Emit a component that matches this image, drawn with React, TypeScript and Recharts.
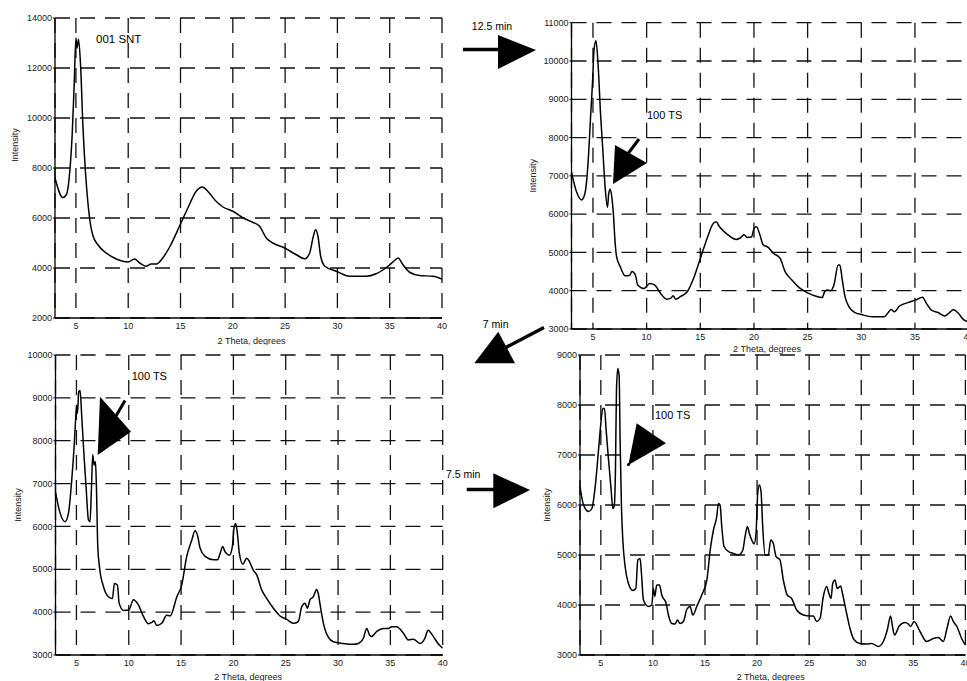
import { LineChart, Line, XAxis, YAxis, CartesianGrid } from 'recharts'

const FONT = '"Liberation Sans", Arial, Helvetica, sans-serif'

// 2 theta ticks shared by all four scans
const thetaTicks = [5, 10, 15, 20, 25, 30, 35, 40]

// 001 SNT (starting material)
const sntTicks = [2000, 4000, 6000, 8000, 10000, 12000, 14000]
const sntTheta = [
  3, 3.75, 4.08, 4.4, 4.65, 4.84, 5.0, 5.1, 5.25, 5.45, 5.67, 5.92, 6.15, 6.37, 6.6,
  7.1, 7.9, 8.86, 10, 10.6, 11.1, 11.7, 12.2, 12.7, 13.3, 14, 14.9, 15.7, 16.5, 17.1,
  17.6, 18.4, 19.06, 20, 21, 21.9, 22.56, 23.2, 23.84, 24.96, 26.07, 26.87, 27.35, 27.7,
  27.92, 28.14, 28.4, 28.8, 29.9, 31.17, 32.77, 33.7, 34.84, 35.47, 35.8, 36.27, 36.9,
  37.86, 39.14, 40,
]
const sntIntensity = [
  7600, 6820, 6930, 7800, 9400, 11400, 13200, 12800, 13150, 12070, 9670, 7800, 6600, 5800, 5330,
  4930, 4600, 4360, 4240, 4360, 4200, 4070, 4160, 4160, 4400, 4870, 5670, 6400, 7070, 7240,
  7070, 6670, 6440, 6270, 6000, 5830, 5670, 5200, 5000, 4800, 4530, 4370, 4600, 5270,
  5530, 5270, 4470, 4070, 3870, 3670, 3670, 3770, 4070, 4300, 4400, 4130, 3830,
  3700, 3670, 3560,
]

// after 12.5 min
const ts1Ticks = [3000, 4000, 5000, 6000, 7000, 8000, 9000, 10000, 11000]
const ts1Theta = [
  3, 3.46, 3.93, 4.25, 4.56, 4.78, 4.97, 5.1, 5.28, 5.47, 5.72, 5.9, 6.13, 6.35, 6.47,
  6.6, 6.75, 6.9, 7.07, 7.2, 7.54, 8.0, 8.4, 8.64, 8.95, 9.17, 9.73, 10.3, 10.74, 11.3,
  11.87, 12.24, 12.46, 12.7, 13.18, 13.8, 14.44, 15.06, 15.69, 16.16, 16.47, 16.79, 17.57,
  18.35, 18.67, 19.08, 19.39, 19.76, 20.02, 20.24, 20.55, 20.86, 21.33, 21.8, 22.43, 22.9,
  23.53, 24.31, 25.1, 25.72, 26.35, 26.6, 26.82, 27.13, 27.45, 27.85, 28.0, 28.23, 28.48,
  28.86, 29.33, 30.1, 31.05, 32.15, 32.46, 32.77, 33.09, 33.56, 34.35, 35.1, 35.7, 36.07,
  36.5, 37.15, 37.8, 38.3, 38.57, 39.05, 39.5, 40,
]
const ts1Intensity = [
  7100, 6590, 6370, 6540, 7410, 8550, 9500, 10290, 10530, 9940, 8550, 7760, 6720, 6180, 6540,
  6650, 6460, 6020, 5240, 4890, 4630, 4390, 4400, 4500, 4410, 4150, 4060, 4190, 4150, 3930,
  3780, 3800, 3870, 3780, 3850, 3980, 4370, 4890, 5410, 5740, 5800, 5670, 5460,
  5340, 5370, 5460, 5390, 5400, 5630, 5670, 5460, 5200, 5130, 4980, 4850, 4500,
  4280, 4060, 3930, 3860, 3820, 3980, 4020, 4000, 4150, 4670, 4670, 4280, 3850,
  3580, 3440, 3370, 3320, 3320, 3410, 3510, 3450, 3600, 3690, 3760, 3830, 3670,
  3500, 3430, 3340, 3450, 3500, 3410, 3250, 3190,
]

// after a further 7 min
const ts2Ticks = [3000, 4000, 5000, 6000, 7000, 8000, 9000, 10000]
const ts2Theta = [
  3, 3.44, 3.92, 4.24, 4.55, 4.78, 4.94, 5.03, 5.1, 5.22, 5.35, 5.51, 5.73, 5.92, 6.15,
  6.3, 6.43, 6.56, 6.69, 6.82, 6.91, 7.04, 7.2, 7.58, 8.06, 8.44, 8.63, 8.92, 9.08, 9.5,
  10, 10.45, 10.92, 11.4, 11.88, 12.2, 12.4, 12.67, 13.15, 13.63, 13.95, 14.6, 15.06,
  15.54, 16.02, 16.34, 16.56, 16.82, 17.3, 18.1, 18.47, 18.73, 18.98, 19.2, 19.62, 19.9,
  20.06, 20.22, 20.38, 20.57, 20.9, 21.27, 21.53, 21.9, 22.23, 22.7, 23.18, 23.82, 24.46,
  25.1, 25.73, 26.2, 26.53, 26.85, 27.07, 27.32, 27.64, 27.96, 28.1, 28.34, 28.6, 29.08,
  29.55, 30.5, 31.47, 31.94, 32.42, 32.74, 33.0, 33.2, 33.7, 34.33, 34.8, 35.13, 35.6,
  36.24, 36.72, 37.2, 37.83, 38.3, 38.6, 39.0, 39.55, 40,
]
const ts2Intensity = [
  6800, 6310, 6110, 6310, 7080, 7860, 8560, 8830, 8640, 9140, 9170, 8560, 7630, 6930, 6150,
  6110, 6850, 7670, 7430, 7510, 6930, 5530, 5060, 4600, 4360, 4320, 4670, 4630, 4210, 4040,
  4050, 4290, 4170, 3900, 3730, 3760, 3800, 3690, 3740, 3930, 3910, 4360, 4630,
  5300, 5680, 5900, 5800, 5490, 5300, 5220, 5220, 5370, 5530, 5410, 5330, 5530,
  5960, 6070, 5840, 5370, 5120, 5260, 5180, 4980, 4870, 4520, 4320, 4090, 3910,
  3830, 3740, 3780, 4130, 4210, 4090, 4290, 4360, 4530, 4440, 4090, 3740, 3410,
  3310, 3270, 3250, 3270, 3390, 3620, 3470, 3430, 3550, 3620, 3620, 3660, 3660,
  3510, 3350, 3370, 3270, 3390, 3580, 3470, 3270, 3160,
]

// after a further 7.5 min
const ts3Ticks = [3000, 4000, 5000, 6000, 7000, 8000, 9000]
const ts3Theta = [
  3, 3.34, 3.82, 4.14, 4.46, 4.78, 5.0, 5.19, 5.35, 5.51, 5.74, 5.99, 6.15, 6.28, 6.41,
  6.5, 6.63, 6.76, 6.85, 6.98, 7.11, 7.33, 7.65, 8.07, 8.36, 8.55, 8.77, 8.9, 9.09, 9.57,
  9.89, 10.05, 10.18, 10.37, 10.63, 10.85, 11.27, 11.49, 11.81, 12.13, 12.36, 12.6, 12.93,
  13.25, 13.57, 13.83, 14.21, 14.69, 15.18, 15.5, 15.81, 16.13, 16.29, 16.45, 16.61, 16.83,
  17.25, 17.73, 18.21, 18.62, 18.85, 19.07, 19.26, 19.49, 19.71, 19.9, 20.06, 20.22, 20.38,
  20.54, 20.77, 21.08, 21.31, 21.56, 21.82, 22.2, 22.52, 22.9, 23.32, 23.8, 24.44, 25.1,
  25.4, 25.72, 26.04, 26.36, 26.68, 26.9, 27.1, 27.26, 27.48, 27.7, 28.02, 28.2, 28.6,
  28.92, 29.3, 29.88, 30.52, 31.0, 31.64, 32.12, 32.5, 32.82, 33.0, 33.2, 33.65, 34.2,
  34.52, 34.74, 35.07, 35.64, 36.28, 36.92, 37.4, 37.88, 38.2, 38.58, 38.84, 39.16, 39.64, 40,
]
const ts3Intensity = [
  6370, 6000, 5870, 5930, 6370, 7100, 7630, 7930, 7930, 7500, 6900, 6300, 5930, 5970, 6770,
  8300, 8730, 8570, 7300, 5970, 5300, 4770, 4430, 4290, 4330, 4900, 4930, 4630, 4100, 3970,
  4000, 4330, 4170, 4400, 4400, 4200, 4030, 3800, 3630, 3620, 3700, 3630, 3670,
  3910, 3970, 3800, 3970, 4200, 4500, 5100, 5500, 5770, 6030, 6000, 5570, 5170,
  5070, 5030, 5000, 5090, 5370, 5570, 5430, 5300, 5220, 5430, 6230, 6400, 6270,
  5570, 5000, 5000, 5300, 5230, 4970, 4900, 4500, 4200, 4130, 3900, 3800, 3780,
  3780, 3670, 3730, 4170, 4370, 4230, 4130, 4430, 4500, 4330, 4380, 4230, 3830,
  3530, 3310, 3230, 3220, 3230, 3170, 3270, 3500, 3780, 3570, 3400, 3580, 3650,
  3620, 3570, 3670, 3470, 3270, 3330, 3350, 3270, 3500, 3780, 3670, 3580, 3330, 3200,
]

const tickStyle = { fill: '#222', fontSize: 9, fontFamily: FONT }

const yLabel = (dx: number, dy: number) => (props: any) => {
  const vb = props.viewBox
  const cx = vb.x + dx
  const cy = vb.y + vb.height / 2 + dy
  return (
    <text
      transform={`translate(${cx},${cy}) rotate(-90)`}
      textAnchor="middle"
      dominantBaseline="central"
      fontSize={9}
      fontFamily={FONT}
      fill="#222"
    >
      Intensity
    </text>
  )
}

const xLabel = (dx: number, dy: number) => (props: any) => {
  const vb = props.viewBox
  return (
    <text
      x={vb.x + vb.width / 2 + dx}
      y={vb.y + dy}
      textAnchor="middle"
      dominantBaseline="central"
      fontSize={9}
      fontFamily={FONT}
      fill="#222"
    >
      2 Theta, degrees
    </text>
  )
}

interface PanelProps {
  theta: number[]
  intensity: number[]
  yTicks: number[]
  left: number
  top: number
  width: number
  height: number
  plotLeft: number
  plotTop: number
  plotRight: number
  axisHeight: number
  yLab: [number, number]
  xLab: [number, number]
}

function Panel(p: PanelProps) {
  const data = p.theta.map((t, i) => ({ theta: t, intensity: p.intensity[i] }))
  return (
    <div style={{ position: 'absolute', left: p.left, top: p.top }}>
      <LineChart
        width={p.width}
        height={p.height}
        data={data}
        margin={{ top: p.plotTop, right: p.plotRight, bottom: 0, left: 0 }}
      >
        <CartesianGrid stroke="#111" strokeWidth={1.3} strokeDasharray="15 10" />
        <XAxis
          type="number"
          dataKey="theta"
          domain={[3, 40]}
          ticks={thetaTicks}
          allowDataOverflow
          interval={0}
          height={p.axisHeight}
          axisLine={{ stroke: '#000', strokeWidth: 1.3 }}
          tickLine={false}
          tickSize={3}
          tickMargin={2}
          tick={tickStyle}
          label={xLabel(p.xLab[0], p.xLab[1])}
        />
        <YAxis
          type="number"
          domain={[p.yTicks[0], p.yTicks[p.yTicks.length - 1]]}
          ticks={p.yTicks}
          allowDataOverflow
          interval={0}
          width={p.plotLeft}
          axisLine={{ stroke: '#000', strokeWidth: 1.3 }}
          tickLine={{ stroke: '#000' }}
          tickSize={2}
          tickMargin={1}
          tick={tickStyle}
          label={yLabel(p.yLab[0], p.yLab[1])}
        />
        <Line
          type="monotone"
          dataKey="intensity"
          stroke="#000"
          strokeWidth={1.5}
          dot={false}
          isAnimationActive={false}
        />
      </LineChart>
    </div>
  )
}

const noteStyle = { fontSize: 11, fontFamily: FONT, fill: '#000' }

export default function App() {
  return (
    <div
      style={{
        position: 'absolute',
        left: 0,
        top: 0,
        width: 967,
        height: 681,
        overflow: 'hidden',
        background: '#fff',
      }}
    >
      <Panel
        theta={sntTheta}
        intensity={sntIntensity}
        yTicks={sntTicks}
        left={0}
        top={0}
        width={450}
        height={345}
        plotLeft={55}
        plotTop={18}
        plotRight={8}
        axisHeight={27}
        yLab={[15, -23]}
        xLab={[3, 22.5]}
      />
      <Panel
        theta={ts1Theta}
        intensity={ts1Intensity}
        yTicks={ts1Ticks}
        left={500}
        top={0}
        width={475}
        height={356}
        plotLeft={71.5}
        plotTop={22.7}
        plotRight={6.4}
        axisHeight={27}
        yLab={[33, 0]}
        xLab={[-3, 20]}
      />
      <Panel
        theta={ts2Theta}
        intensity={ts2Intensity}
        yTicks={ts2Ticks}
        left={0}
        top={340}
        width={452}
        height={341}
        plotLeft={55.5}
        plotTop={15}
        plotRight={9.3}
        axisHeight={26}
        yLab={[18, 0]}
        xLab={[-1, 21.5]}
      />
      <Panel
        theta={ts3Theta}
        intensity={ts3Intensity}
        yTicks={ts3Ticks}
        left={500}
        top={340}
        width={475}
        height={341}
        plotLeft={80}
        plotTop={15}
        plotRight={9.6}
        axisHeight={26}
        yLab={[46.7, 0]}
        xLab={[-2, 21.5]}
      />
      <svg
        width={967}
        height={681}
        style={{ position: 'absolute', left: 0, top: 0, pointerEvents: 'none' }}
      >
        <text x={96} y={43} {...noteStyle} fontSize={11.5}>001 SNT</text>

        <text x={492} y={30} textAnchor="middle" {...noteStyle} fontSize={10.5}>12.5 min</text>
        <line x1={463} y1={49.5} x2={500} y2={49.5} stroke="#000" strokeWidth={3.5} />
        <polygon points="498,35 536,50 498,69" fill="#000" />

        <text x={647} y={119} {...noteStyle}>100 TS</text>
        <line x1={639} y1={139} x2={627} y2={155} stroke="#000" strokeWidth={3} />
        <polygon points="615,145 647,163 613,184" fill="#000" />

        <text x={495.7} y={327.5} textAnchor="middle" {...noteStyle} fontSize={10.5}>7 min</text>
        <line x1={544} y1={327.5} x2={503} y2={349} stroke="#000" strokeWidth={3.5} />
        <polygon points="498.3,331.7 515,363.3 474.3,363.3" fill="#000" />

        <text x={131.7} y={380} {...noteStyle}>100 TS</text>
        <line x1={125} y1={400.5} x2={116} y2={416} stroke="#000" strokeWidth={3} />
        <polygon points="100,396.7 131,431.7 97.7,455" fill="#000" />

        <text x={446} y={477.5} {...noteStyle} fontSize={10.5}>7.5 min</text>
        <line x1={466.7} y1={489.5} x2={495} y2={489.5} stroke="#000" strokeWidth={3.5} />
        <polygon points="493.3,473.3 530,490 493.3,508.3" fill="#000" />

        <text x={655} y={419} {...noteStyle}>100 TS</text>
        <polygon points="636.7,423.3 666,443.3 628.3,465" fill="#000" />
        <circle cx={628.5} cy={464.5} r={1.6} fill="#000" />
      </svg>
    </div>
  )
}
